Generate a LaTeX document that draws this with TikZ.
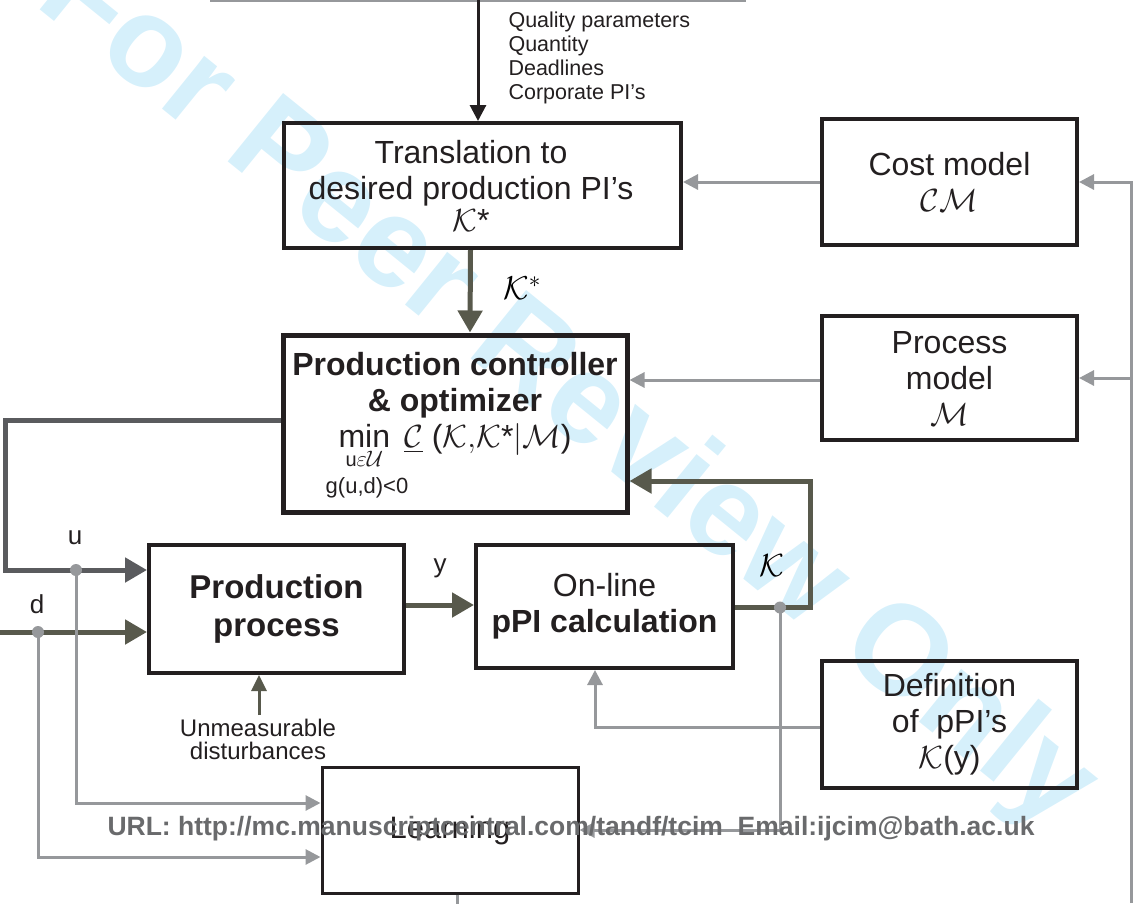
\RequirePackage{fix-cm}
\documentclass[tikz,border=0pt]{standalone}
\usepackage{amsmath}
\usepackage{fontspec}
\setmainfont{Liberation Sans}
\usepackage{tikz}
\usetikzlibrary{arrows.meta}
\definecolor{linegray}{RGB}{150,152,155}
\definecolor{darkolive}{RGB}{88,89,76}
\definecolor{ctrlgray}{RGB}{90,91,94}
\definecolor{inkblack}{RGB}{35,31,32}
\definecolor{markcyan}{RGB}{214,240,251}
\definecolor{urlgray}{RGB}{105,106,108}

\begin{document}
\begin{tikzpicture}[x=1pt, y=-1pt,
                    block/.style={rectangle, draw=inkblack, line width=4pt, inner sep=0pt,
                    text=inkblack, align=center, font=\fontsize{32}{36}\selectfont},
                    graylink/.style={draw=linegray, line width=3pt, -{Triangle[length=15pt,width=15pt]}},
                    olivelink/.style={draw=darkolive, line width=5pt, -{Triangle[length=22pt,width=24pt]}},
                    ctrllink/.style={draw=ctrlgray, line width=5pt, -{Triangle[length=22pt,width=24pt]}},
                    tap/.style={circle, fill=linegray, inner sep=0pt, minimum size=12pt},
                    small/.style={text=inkblack, font=\fontsize{21.5}{24}\selectfont},
                    sig/.style={text=inkblack, font=\fontsize{26}{26}\selectfont}]
    \useasboundingbox (0,0) rectangle (1136,903);

    % watermark
    \node [text=markcyan, rotate=-39, font=\fontsize{128}{128}\bfseries\selectfont] (mark) at (566,393) {For Peer Review Only};

    % blocks
    \node [block, minimum width=397pt, minimum height=125pt] (transl) at (482.5,185.5) {};
    \node [text=inkblack, align=center, font=\fontsize{32}{36}\selectfont] (transltext) at (471,186)
        {Translation to\\desired production PI's\\[-4pt]$\mathcal{K}$*};
    \node [block, minimum width=255pt, minimum height=126pt] (cost) at (949.5,182) {Cost model\\$\mathcal{CM}$};
    \node [block, line width=5pt, minimum width=344pt, minimum height=177pt] (ctrl) at (455,423.5) {};
    \node [text=inkblack, align=center, font=\fontsize{32}{36}\selectfont] (ctrltext) at (455,411)
        {\textbf{Production controller}\\\textbf{\& optimizer}\\$\mathop{\text{min}}\limits_{\text{\fontsize{20}{20}\selectfont u}\varepsilon\mathcal{U}}\ \underline{\mathcal{C}}\ \text{(}\mathcal{K}{,}\mathcal{K}\text{*}|\mathcal{M}\text{)}$};
    \node [small, font=\fontsize{22}{24}\selectfont] (gcond) at (367,488) {g(u,d)<0};
    \node [block, minimum width=255pt, minimum height=124pt] (proc) at (949.5,378) {Process\\model\\$\mathcal{M}$};
    \node [block, minimum width=255pt, minimum height=128pt, font=\fontsize{33}{38}\bfseries\selectfont] (prod) at (276.5,609) {Production\\process};
    \node [block, minimum width=257pt, minimum height=123pt] (ppi) at (604.5,606.5) {On-line\\\textbf{pPI calculation}};
    \node [block, minimum width=255pt, minimum height=127pt] (def) at (949.5,724.5) {Definition\\of~ pPI's\\$\mathcal{K}$(y)};
    \node [block, line width=3pt, minimum width=256pt, minimum height=126pt, font=\fontsize{31}{36}\selectfont] (learn) at (450,830) {Learning};

    % inputs and labels
    \coordinate (topl) at (210,1);
    \coordinate (topr) at (746,1);
    \coordinate (topin) at (478,0);
    \coordinate (din) at (0,632);
    \coordinate (udrop) at (5,500);
    \coordinate (bus) at (1131,903);
    \node [small, anchor=north west, align=left] (demands) at (505,8) {Quality parameters\\Quantity\\Deadlines\\Corporate PI's};
    \node [small, align=center, font=\fontsize{24}{23}\selectfont] (unmeas) at (258,739) {Unmeasurable\\disturbances};
    \node [font=\fontsize{33}{33}\selectfont] (kstar) at (522,288) {$\mathcal{K}^*$};
    \node [sig] (ulabel) at (75,538) {u};
    \node [sig] (dlabel) at (37,604) {d};
    \node [sig] (ylabel) at (440,568) {y};
    \node [font=\fontsize{32}{32}\selectfont] (klabel) at (772,566) {$\mathcal{K}$};

    % connectors
    \draw [linegray, line width=2pt] (topl) -- (topr);
    \draw [draw=inkblack, line width=3pt, -{Triangle[length=16pt,width=16pt]}] (topin) -- (topin |- transl.north);
    \draw [graylink] (cost.west) -- (cost.west -| transl.east);
    \draw [olivelink] ([xshift=-12pt]transl.south) -- ([xshift=15pt]ctrl.north);
    \draw [graylink] ([yshift=-2pt]proc.west) -- ([yshift=-2pt]proc.west -| ctrl.east);
    \draw [ctrllink] ([yshift=3pt]ctrl.west) -| (udrop) |- ([yshift=39pt]prod.west);
    \draw [olivelink] (din) -- (din -| prod.west);
    \draw [olivelink] ([yshift=4pt]prod.east) -- ([yshift=4pt]prod.east -| ppi.west);
    \draw [olivelink] ([yshift=-1pt]ppi.east) -- ++(75,0) |- ([yshift=-57.5pt]ctrl.east);
    \draw [draw=darkolive, line width=3pt, -{Triangle[length=16pt,width=15pt]}] (unmeas.north -| 259,0) -- (prod.south -| 259,0);
    \draw [graylink] ([yshift=-2.5pt]def.west) -| ([xshift=-9.5pt]ppi.south);
    \draw [graylink] (bus) |- (cost.east);
    \draw [graylink] (bus |- proc.east) -- (proc.east);
    \draw [linegray, line width=3pt] ([xshift=7pt]learn.south) -- ++(0,12);

    \coordinate (utap) at (76,570);
    \coordinate (dtap) at (38,632);
    \coordinate (ktap) at (780,607.5);
    \draw [graylink] (utap) |- ([yshift=27pt]learn.west);
    \draw [graylink] (dtap) |- ([yshift=-27pt]learn.west);
    \draw [graylink] (ktap) |- (learn.east);
    \node [tap] (udot) at (utap) {};
    \node [tap] (ddot) at (dtap) {};
    \node [tap] (kdot) at (ktap) {};

    % footer
    \node [text=urlgray, font=\fontsize{26.5}{26.5}\bfseries\selectfont] (url) at (571,829) {URL: http://mc.manuscriptcentral.com/tandf/tcim\ \ Email:ijcim@bath.ac.uk};
\end{tikzpicture}
\end{document}
